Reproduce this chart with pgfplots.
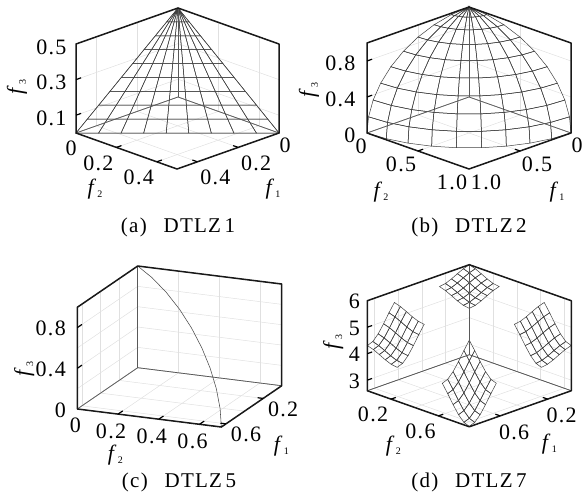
\documentclass[border=0pt]{standalone}
\usepackage{fontspec}
\setmainfont[LetterSpace=6]{Liberation Serif}
\usepackage{pgfplots}
\pgfplotsset{compat=1.18}

\newcommand{\lab}[1]{\fontsize{22}{22}\selectfont\textit{f}\raisebox{-3.5pt}{\fontsize{10}{10}\selectfont #1}}
\newcommand{\hex}[4]{
  \draw[black!65,line width=0.7pt] (axis cs:#1,0,#3) -- (axis cs:0,0,#3) -- (axis cs:0,#2,#3);
  \draw[black!65,line width=0.7pt] (axis cs:0,0,#3) -- (axis cs:0,0,#4);
  \draw[black!90,line width=1.5pt,line join=round]
  (axis cs:#1,0,#3) -- (axis cs:#1,#2,#3) -- (axis cs:0,#2,#3) -- (axis cs:0,#2,#4)
  -- (axis cs:0,0,#4) -- (axis cs:#1,0,#4) -- cycle;}
% ends of a short tick on a front edge, drawn once the axes are closed
\newcommand{\tk}[3]{\coordinate (#1s) at (axis cs:#2); \coordinate (#1e) at (axis cs:#3);}

\pgfplotsset{
  panel/.style={
    clip=false, grid=major, minor grid style={black!12,line width=0.5pt},
    major grid style={black!12,line width=0.5pt},
    axis line style={black!60,line width=0.5pt},
    major tick length=0pt, minor tick length=0pt,
    tick label style={font=\fontsize{22}{22}\selectfont,anchor=center},
    colormap={k}{color=(black!75) color=(black!75)},
  },
  wire/.style={mesh,line width=0.5pt},
  curve/.style={black!70,line width=0.55pt,no marks},
}

\begin{document}
\begin{tikzpicture}
\path[use as bounding box] (0pt,0pt) rectangle (585pt,498pt);

% (a) DTLZ1
\begin{axis}[panel,at={(178pt,401pt)},anchor=origin,
  x={(-204pt,-72pt)},y={(202pt,-72pt)},z={(0pt,178pt)},
  xmin=0,xmax=0.5,ymin=0,ymax=0.5,zmin=0,zmax=0.5,
  xtick={0.2,0.4},xticklabels={0.2,0.4},ytick={0.2,0.4},yticklabels={0.2,0.4},
  ztick={0.1,0.3,0.5},zticklabels={0.1,0.3,0.5},
  xticklabel style={xshift=18pt,yshift=-16pt},
  yticklabel style={xshift=-18pt,yshift=-16pt},
  zticklabel style={anchor=east,xshift=-6pt,yshift=-3pt},
  extra x ticks={0},extra x tick labels={0},extra x tick style={xticklabel style={xshift=-12pt,yshift=4pt}},
  extra y ticks={0},extra y tick labels={0},extra y tick style={yticklabel style={xshift=13pt,yshift=1pt}},
  xlabel={\lab{1}},ylabel={\lab{2}},zlabel={\lab{3}},
  xlabel style={at={(rel axis cs:1,1,0)},anchor=center,xshift=96pt,yshift=-20pt},
  ylabel style={at={(rel axis cs:1,1,0)},anchor=center,xshift=-82pt,yshift=-20pt},
  zlabel style={at={(rel axis cs:1,0,0)},anchor=center,xshift=46pt,yshift=59pt},
]
\addplot3[wire] coordinates {
(.5,0,0) (0,.5,0)

(.4444,0,.0556) (0,.4444,.0556)

(.3889,0,.1111) (0,.3889,.1111)

(.3333,0,.1667) (0,.3333,.1667)

(.2778,0,.2222) (0,.2778,.2222)

(.2222,0,.2778) (0,.2222,.2778)

(.1667,0,.3333) (0,.1667,.3333)

(.1111,0,.3889) (0,.1111,.3889)

(.0556,0,.4444) (0,.0556,.4444)

(0,0,.5) (0,0,.5)
};
\addplot3[wire] coordinates {
(.5,0,0) (0,0,.5)

(.4444,.0556,0) (0,0,.5)

(.3889,.1111,0) (0,0,.5)

(.3333,.1667,0) (0,0,.5)

(.2778,.2222,0) (0,0,.5)

(.2222,.2778,0) (0,0,.5)

(.1667,.3333,0) (0,0,.5)

(.1111,.3889,0) (0,0,.5)

(.0556,.4444,0) (0,0,.5)

(0,.5,0) (0,0,.5)
};
\hex{0.5}{0.5}{0}{0.5}
\tk{a1}{0.2,0.5,0}{0.2,0.475,0} \tk{a2}{0.4,0.5,0}{0.4,0.475,0}
\tk{a3}{0.5,0.2,0}{0.475,0.2,0} \tk{a4}{0.5,0.4,0}{0.475,0.4,0}
\tk{a5}{0.5,0,0.1}{0.475,0,0.1} \tk{a6}{0.5,0,0.3}{0.475,0,0.3}
\end{axis}

% (b) DTLZ2
\begin{axis}[panel,at={(469pt,401pt)},anchor=origin,
  x={(-102pt,-36pt)},y={(102pt,-36pt)},z={(0pt,90pt)},
  xmin=0,xmax=1,ymin=0,ymax=1,zmin=0,zmax=1,
  xtick={0.5,1},xticklabels={0.5,1.0},ytick={0.5,1},yticklabels={0.5,1.0},
  ztick={0,0.4,0.8},zticklabels={0,0.4,0.8},
  xticklabel style={xshift=17pt,yshift=-13pt},
  yticklabel style={xshift=-17pt,yshift=-13pt},
  zticklabel style={anchor=east,xshift=-8pt,yshift=-2pt},
  extra x ticks={0},extra x tick labels={0},extra x tick style={xticklabel style={xshift=-11pt,yshift=1pt}},
  extra y ticks={0},extra y tick labels={0},extra y tick style={yticklabel style={xshift=11pt,yshift=0pt}},
  xlabel={\lab{1}},ylabel={\lab{2}},zlabel={\lab{3}},
  xlabel style={at={(rel axis cs:1,1,0)},anchor=center,xshift=88pt,yshift=-23pt},
  ylabel style={at={(rel axis cs:1,1,0)},anchor=center,xshift=-88pt,yshift=-23pt},
  zlabel style={at={(rel axis cs:1,0,0)},anchor=center,xshift=43pt,yshift=58pt},
]
\addplot3[wire] coordinates {
(1,0,0) (.9848,.1736,0) (.9397,.3420,0) (.8660,.5,0) (.7660,.6428,0) (.6428,.7660,0) (.5,.8660,0) (.3420,.9397,0) (.1736,.9848,0) (0,1,0)

(.9848,0,.1736) (.9698,.1710,.1736) (.9254,.3368,.1736) (.8529,.4924,.1736) (.7544,.6330,.1736) (.6330,.7544,.1736) (.4924,.8529,.1736) (.3368,.9254,.1736) (.1710,.9698,.1736) (0,.9848,.1736)

(.9397,0,.3420) (.9254,.1631,.3420) (.8830,.3214,.3420) (.8138,.4698,.3420) (.7198,.6040,.3420) (.6040,.7198,.3420) (.4698,.8138,.3420) (.3214,.8830,.3420) (.1631,.9254,.3420) (0,.9397,.3420)

(.8660,0,.5) (.8529,.1504,.5) (.8138,.2962,.5) (.7500,.4330,.5) (.6634,.5567,.5) (.5567,.6634,.5) (.4330,.7500,.5) (.2962,.8138,.5) (.1504,.8529,.5) (0,.8660,.5)

(.7660,0,.6428) (.7544,.1330,.6428) (.7198,.2620,.6428) (.6634,.3830,.6428) (.5868,.4924,.6428) (.4924,.5868,.6428) (.3830,.6634,.6428) (.2620,.7198,.6428) (.1330,.7544,.6428) (0,.7660,.6428)

(.6428,0,.7660) (.6330,.1116,.7660) (.6040,.2198,.7660) (.5567,.3214,.7660) (.4924,.4132,.7660) (.4132,.4924,.7660) (.3214,.5567,.7660) (.2198,.6040,.7660) (.1116,.6330,.7660) (0,.6428,.7660)

(.5,0,.8660) (.4924,.0868,.8660) (.4698,.1710,.8660) (.4330,.25,.8660) (.3830,.3214,.8660) (.3214,.3830,.8660) (.25,.4330,.8660) (.1710,.4698,.8660) (.0868,.4924,.8660) (0,.5,.8660)

(.3420,0,.9397) (.3368,.0594,.9397) (.3214,.1170,.9397) (.2962,.1710,.9397) (.2620,.2198,.9397) (.2198,.2620,.9397) (.1710,.2962,.9397) (.1170,.3214,.9397) (.0594,.3368,.9397) (0,.3420,.9397)

(.1736,0,.9848) (.1710,.0302,.9848) (.1631,.0594,.9848) (.1504,.0868,.9848) (.1330,.1116,.9848) (.1116,.1330,.9848) (.0868,.1504,.9848) (.0594,.1631,.9848) (.0302,.1710,.9848) (0,.1736,.9848)

(0,0,1) (0,0,1) (0,0,1) (0,0,1) (0,0,1) (0,0,1) (0,0,1) (0,0,1) (0,0,1) (0,0,1)
};
\hex{1}{1}{0}{1}
\tk{b1}{0.5,1,0}{0.5,0.95,0}
\tk{b2}{1,0.5,0}{0.95,0.5,0}
\tk{b3}{1,0,0.4}{0.95,0,0.4} \tk{b4}{1,0,0.8}{0.95,0,0.8}
\end{axis}

% (c) DTLZ5
\begin{axis}[panel,at={(137.7pt,130.3pt)},anchor=origin,
  x={(-92.9pt,-63.5pt)},y={(203.7pt,-25.5pt)},z={(0pt,101.7pt)},
  xmin=0,xmax=0.65,ymin=0,ymax=0.7071,zmin=0,zmax=1,
  minor tick num=0,
  xtick={0.2,0.6},xticklabels={0.2,0.6},minor xtick={0.4},
  ytick={0.2,0.4,0.6},yticklabels={0.2,0.4,0.6},
  ztick={0,0.4,0.8},zticklabels={0,0.4,0.8},minor ztick={0.2,0.6},
  xminorgrids,zminorgrids,
  xticklabel style={xshift=20pt,yshift=-11pt},
  yticklabel style={xshift=-7pt,yshift=-17pt},
  zticklabel style={anchor=east,xshift=-8pt,yshift=-1pt},
  extra y ticks={0},extra y tick labels={0},extra y tick style={yticklabel style={xshift=5pt,yshift=1pt}},
  xlabel={\lab{1}},ylabel={\lab{2}},zlabel={\lab{3}},
  xlabel style={at={(rel axis cs:1,1,0)},anchor=center,xshift=60pt,yshift=-19pt},
  ylabel style={at={(rel axis cs:1,1,0)},anchor=center,xshift=-106pt,yshift=-28pt},
  zlabel style={at={(rel axis cs:1,0,0)},anchor=center,xshift=40pt,yshift=53pt},
]
\addplot3[curve] coordinates {
(.65,.7071,0) (.6402,.6964,.1736) (.6108,.6645,.3420) (.5629,.6124,.5) (.4979,.5417,.6428)
(.4178,.4545,.7660) (.3250,.3536,.8660) (.2223,.2418,.9397) (.1129,.1228,.9848) (0,0,1)
};
\hex{0.65}{0.7071}{0}{1}
\tk{c1}{0.2,0.7071,0}{0.2,0.68,0} \tk{c2}{0.6,0.7071,0}{0.6,0.68,0}
\tk{c3}{0.65,0.2,0}{0.6,0.2,0} \tk{c4}{0.65,0.4,0}{0.6,0.4,0} \tk{c5}{0.65,0.6,0}{0.6,0.6,0}
\tk{c6}{0.65,0,0.4}{0.6,0,0.4} \tk{c7}{0.65,0,0.8}{0.6,0,0.8}
\end{axis}

% (d) DTLZ7
\begin{axis}[panel,at={(469.3pt,143.3pt)},anchor=origin,
  x={(-118.6pt,-41.9pt)},y={(118.6pt,-41.9pt)},z={(0pt,26.47pt)},
  xmin=0,xmax=0.86,ymin=0,ymax=0.86,zmin=2.6,zmax=6,
  xtick={0.2,0.6},xticklabels={0.2,0.6},minor xtick={0.4,0.8},
  ytick={0.2,0.6},yticklabels={0.2,0.6},minor ytick={0.4,0.8},
  ztick={3,4,5,6},zticklabels={3,4,5,6},
  xminorgrids,yminorgrids,
  xticklabel style={xshift=14pt,yshift=-16pt},
  yticklabel style={xshift=-18pt,yshift=-15pt},
  zticklabel style={anchor=east,xshift=-4pt,yshift=-1pt},
  xlabel={\lab{1}},ylabel={\lab{2}},zlabel={\lab{3}},
  xlabel style={at={(rel axis cs:1,1,0)},anchor=center,xshift=80pt,yshift=-17pt},
  ylabel style={at={(rel axis cs:1,1,0)},anchor=center,xshift=-76pt,yshift=-19pt},
  zlabel style={at={(rel axis cs:1,0,0)},anchor=center,xshift=49pt,yshift=34pt},
]
% near patch f1,f2 small
\addplot3[wire] coordinates {
(0,0,6.0000) (0,.0503,5.9267) (0,.1006,5.8177) (0,.1508,5.7001) (0,.2011,5.6083) (0,.2514,5.5730)

(.0503,0,5.9267) (.0503,.0503,5.8534) (.0503,.1006,5.7444) (.0503,.1508,5.6268) (.0503,.2011,5.5350) (.0503,.2514,5.4997)

(.1006,0,5.8177) (.1006,.0503,5.7444) (.1006,.1006,5.6354) (.1006,.1508,5.5178) (.1006,.2011,5.4260) (.1006,.2514,5.3907)

(.1508,0,5.7001) (.1508,.0503,5.6268) (.1508,.1006,5.5178) (.1508,.1508,5.4002) (.1508,.2011,5.3084) (.1508,.2514,5.2731)

(.2011,0,5.6083) (.2011,.0503,5.5350) (.2011,.1006,5.4260) (.2011,.1508,5.3084) (.2011,.2011,5.2166) (.2011,.2514,5.1813)

(.2514,0,5.5730) (.2514,.0503,5.4997) (.2514,.1006,5.3907) (.2514,.1508,5.2731) (.2514,.2011,5.1813) (.2514,.2514,5.1460)
};
% f1 small, f2 large
\addplot3[wire] coordinates {
(0,.6316,5.5734) (0,.6772,5.2557) (0,.7227,4.9131) (0,.7683,4.6034) (0,.8138,4.3860) (0,.8594,4.3069)

(.0503,.6316,5.5001) (.0503,.6772,5.1824) (.0503,.7227,4.8398) (.0503,.7683,4.5301) (.0503,.8138,4.3127) (.0503,.8594,4.2336)

(.1006,.6316,5.3911) (.1006,.6772,5.0734) (.1006,.7227,4.7308) (.1006,.7683,4.4211) (.1006,.8138,4.2037) (.1006,.8594,4.1246)

(.1508,.6316,5.2735) (.1508,.6772,4.9558) (.1508,.7227,4.6132) (.1508,.7683,4.3035) (.1508,.8138,4.0861) (.1508,.8594,4.0070)

(.2011,.6316,5.1817) (.2011,.6772,4.8640) (.2011,.7227,4.5214) (.2011,.7683,4.2117) (.2011,.8138,3.9943) (.2011,.8594,3.9152)

(.2514,.6316,5.1464) (.2514,.6772,4.8287) (.2514,.7227,4.4861) (.2514,.7683,4.1764) (.2514,.8138,3.9590) (.2514,.8594,3.8799)
};
% f1 large, f2 small
\addplot3[wire] coordinates {
(.6316,0,5.5734) (.6772,0,5.2557) (.7227,0,4.9131) (.7683,0,4.6034) (.8138,0,4.3860) (.8594,0,4.3069)

(.6316,.0503,5.5001) (.6772,.0503,5.1824) (.7227,.0503,4.8398) (.7683,.0503,4.5301) (.8138,.0503,4.3127) (.8594,.0503,4.2336)

(.6316,.1006,5.3911) (.6772,.1006,5.0734) (.7227,.1006,4.7308) (.7683,.1006,4.4211) (.8138,.1006,4.2037) (.8594,.1006,4.1246)

(.6316,.1508,5.2735) (.6772,.1508,4.9558) (.7227,.1508,4.6132) (.7683,.1508,4.3035) (.8138,.1508,4.0861) (.8594,.1508,4.0070)

(.6316,.2011,5.1817) (.6772,.2011,4.8640) (.7227,.2011,4.5214) (.7683,.2011,4.2117) (.8138,.2011,3.9943) (.8594,.2011,3.9152)

(.6316,.2514,5.1464) (.6772,.2514,4.8287) (.7227,.2514,4.4861) (.7683,.2514,4.1764) (.8138,.2514,3.9590) (.8594,.2514,3.8799)
};
% both large
\addplot3[wire] coordinates {
(.6316,.6316,5.1468) (.6316,.6772,4.8291) (.6316,.7227,4.4865) (.6316,.7683,4.1768) (.6316,.8138,3.9594) (.6316,.8594,3.8803)

(.6772,.6316,4.8291) (.6772,.6772,4.5114) (.6772,.7227,4.1688) (.6772,.7683,3.8591) (.6772,.8138,3.6417) (.6772,.8594,3.5626)

(.7227,.6316,4.4865) (.7227,.6772,4.1688) (.7227,.7227,3.8262) (.7227,.7683,3.5165) (.7227,.8138,3.2991) (.7227,.8594,3.2200)

(.7683,.6316,4.1768) (.7683,.6772,3.8591) (.7683,.7227,3.5165) (.7683,.7683,3.2068) (.7683,.8138,2.9894) (.7683,.8594,2.9103)

(.8138,.6316,3.9594) (.8138,.6772,3.6417) (.8138,.7227,3.2991) (.8138,.7683,2.9894) (.8138,.8138,2.7720) (.8138,.8594,2.6929)

(.8594,.6316,3.8803) (.8594,.6772,3.5626) (.8594,.7227,3.2200) (.8594,.7683,2.9103) (.8594,.8138,2.6929) (.8594,.8594,2.6138)
};
\hex{0.86}{0.86}{2.6}{6}
\tk{d1}{0.2,0.86,2.6}{0.2,0.82,2.6} \tk{d2}{0.6,0.86,2.6}{0.6,0.82,2.6}
\tk{d3}{0.86,0.2,2.6}{0.82,0.2,2.6} \tk{d4}{0.86,0.6,2.6}{0.82,0.6,2.6}
\tk{d5}{0.86,0,3}{0.82,0,3} \tk{d6}{0.86,0,4}{0.82,0,4} \tk{d7}{0.86,0,5}{0.82,0,5}
\end{axis}

\foreach \n in {a1,a2,a3,a4,a5,a6,b1,b2,b3,b4,c1,c2,c3,c4,c5,c6,c7,d1,d2,d3,d4,d5,d6,d7}
  \draw[black,line width=1.2pt] (\n s) -- (\n e);

\node[font=\fontsize{21}{21}\selectfont] at (178pt,271pt) {(a)\hspace{0.8em}DTLZ\,1};
\node[font=\fontsize{21}{21}\selectfont] at (469pt,271pt) {(b)\hspace{0.8em}DTLZ\,2};
\node[font=\fontsize{21}{21}\selectfont] at (179pt,16pt) {(c)\hspace{0.8em}DTLZ\,5};
\node[font=\fontsize{21}{21}\selectfont] at (469pt,16pt) {(d)\hspace{0.8em}DTLZ\,7};
\end{tikzpicture}
\end{document}
